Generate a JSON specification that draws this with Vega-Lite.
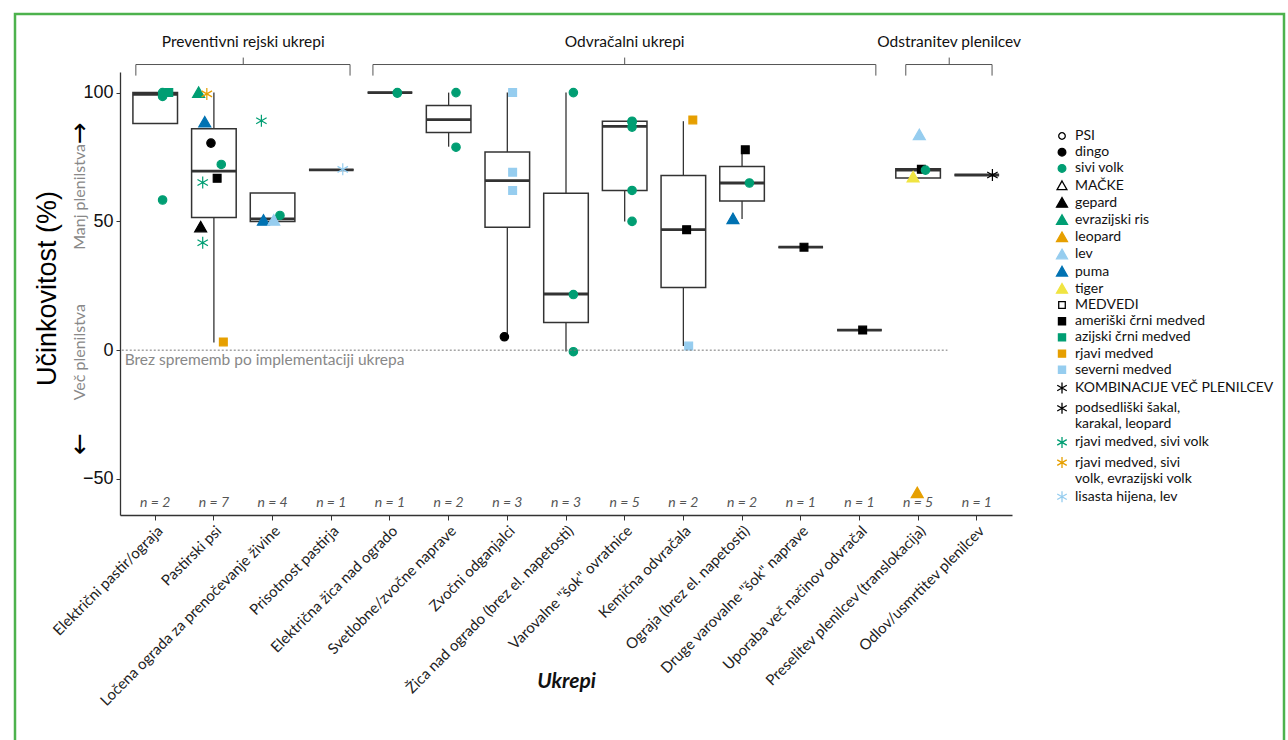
{
  "$schema": "https://vega.github.io/schema/vega-lite/v6.json",
  "width": 1269,
  "height": 740,
  "autosize": {"type": "none"},
  "padding": {"left": 15, "top": 14, "right": 4, "bottom": 0},
  "background": "white",
  "config": {
    "view": {"stroke": "#4db24d", "strokeWidth": 2.5},
    "font": "Lato",
    "axis": {"grid": false}
  },
  "datasets": {
    "boxes": [
      {"category": "Električni pastir/ograja", "n": 2, "lw": 88, "q1": 88, "med": 99.3, "q3": 100, "uw": 100},
      {"category": "Pastirski psi", "n": 7, "lw": 3, "q1": 51.5, "med": 69.5, "q3": 86, "uw": 100},
      {"category": "Ločena ograda za prenočevanje živine", "n": 4, "lw": 50, "q1": 50, "med": 51, "q3": 61, "uw": 61},
      {"category": "Prisotnost pastirja", "n": 1, "lw": 70, "q1": 70, "med": 70, "q3": 70, "uw": 70},
      {"category": "Električna žica nad ogrado", "n": 1, "lw": 100, "q1": 100, "med": 100, "q3": 100, "uw": 100},
      {"category": "Svetlobne/zvočne naprave", "n": 2, "lw": 79, "q1": 84.5, "med": 89.5, "q3": 95, "uw": 100},
      {"category": "Zvočni odganjalci", "n": 3, "lw": 5.2, "q1": 47.7, "med": 65.8, "q3": 76.9, "uw": 100},
      {"category": "Žica nad ogrado (brez el. napetosti)", "n": 3, "lw": -0.5, "q1": 10.7, "med": 21.8, "q3": 60.9, "uw": 100},
      {"category": "Varovalne \"šok\" ovratnice", "n": 5, "lw": 50, "q1": 62, "med": 86.9, "q3": 88.9, "uw": 88.9},
      {"category": "Kemična odvračala", "n": 2, "lw": 1.6, "q1": 24.3, "med": 46.8, "q3": 67.8, "uw": 88.9},
      {"category": "Ograja (brez el. napetosti)", "n": 2, "lw": 50.9, "q1": 57.9, "med": 64.9, "q3": 71.3, "uw": 77.8},
      {"category": "Druge varovalne \"šok\" naprave", "n": 1, "lw": 40, "q1": 40, "med": 40, "q3": 40, "uw": 40},
      {"category": "Uporaba več načinov odvračal", "n": 1, "lw": 7.8, "q1": 7.8, "med": 7.8, "q3": 7.8, "uw": 7.8},
      {"category": "Preselitev plenilcev (translokacija)", "n": 5, "lw": 66.8, "q1": 66.8, "med": 69.9, "q3": 70.4, "uw": 70.4},
      {"category": "Odlov/usmrtitev plenilcev", "n": 1, "lw": 68, "q1": 68, "med": 68, "q3": 68, "uw": 68}
    ],
    "points": [
      {"category": "Električni pastir/ograja", "species": "sivi volk", "value": 98.5},
      {"category": "Električni pastir/ograja", "species": "sivi volk", "value": 100},
      {"category": "Električni pastir/ograja", "species": "azijski črni medved", "value": 100},
      {"category": "Električni pastir/ograja", "species": "sivi volk", "value": 58.3},
      {"category": "Pastirski psi", "species": "evrazijski ris", "value": 100},
      {"category": "Pastirski psi", "species": "rjavi medved, sivi volk, evrazijski volk", "value": 99.5},
      {"category": "Pastirski psi", "species": "puma", "value": 88.5},
      {"category": "Pastirski psi", "species": "dingo", "value": 80.4},
      {"category": "Pastirski psi", "species": "sivi volk", "value": 72.1},
      {"category": "Pastirski psi", "species": "ameriški črni medved", "value": 66.7},
      {"category": "Pastirski psi", "species": "rjavi medved, sivi volk", "value": 65.1},
      {"category": "Pastirski psi", "species": "gepard", "value": 47.8},
      {"category": "Pastirski psi", "species": "rjavi medved, sivi volk", "value": 41.7},
      {"category": "Pastirski psi", "species": "rjavi medved", "value": 3.2},
      {"category": "Ločena ograda za prenočevanje živine", "species": "rjavi medved, sivi volk", "value": 89.1},
      {"category": "Ločena ograda za prenočevanje živine", "species": "sivi volk", "value": 52.3},
      {"category": "Ločena ograda za prenočevanje živine", "species": "puma", "value": 50.4},
      {"category": "Ločena ograda za prenočevanje živine", "species": "lev", "value": 50.4},
      {"category": "Prisotnost pastirja", "species": "lisasta hijena, lev", "value": 70.2},
      {"category": "Električna žica nad ogrado", "species": "sivi volk", "value": 100},
      {"category": "Električna žica nad ogrado", "species": "sivi volk", "value": 99.8},
      {"category": "Svetlobne/zvočne naprave", "species": "sivi volk", "value": 100},
      {"category": "Svetlobne/zvočne naprave", "species": "sivi volk", "value": 78.8},
      {"category": "Zvočni odganjalci", "species": "severni medved", "value": 100},
      {"category": "Zvočni odganjalci", "species": "severni medved", "value": 69.1},
      {"category": "Zvočni odganjalci", "species": "severni medved", "value": 62},
      {"category": "Zvočni odganjalci", "species": "dingo", "value": 5.2},
      {"category": "Žica nad ogrado (brez el. napetosti)", "species": "sivi volk", "value": 100},
      {"category": "Žica nad ogrado (brez el. napetosti)", "species": "sivi volk", "value": 21.6},
      {"category": "Žica nad ogrado (brez el. napetosti)", "species": "sivi volk", "value": -0.6},
      {"category": "Varovalne \"šok\" ovratnice", "species": "sivi volk", "value": 88.9},
      {"category": "Varovalne \"šok\" ovratnice", "species": "sivi volk", "value": 88.5},
      {"category": "Varovalne \"šok\" ovratnice", "species": "sivi volk", "value": 86.6},
      {"category": "Varovalne \"šok\" ovratnice", "species": "sivi volk", "value": 62},
      {"category": "Varovalne \"šok\" ovratnice", "species": "sivi volk", "value": 50},
      {"category": "Kemična odvračala", "species": "rjavi medved", "value": 89.4},
      {"category": "Kemična odvračala", "species": "ameriški črni medved", "value": 46.8},
      {"category": "Kemična odvračala", "species": "severni medved", "value": 1.6},
      {"category": "Ograja (brez el. napetosti)", "species": "ameriški črni medved", "value": 77.8},
      {"category": "Ograja (brez el. napetosti)", "species": "sivi volk", "value": 64.9},
      {"category": "Ograja (brez el. napetosti)", "species": "puma", "value": 51},
      {"category": "Druge varovalne \"šok\" naprave", "species": "ameriški črni medved", "value": 40},
      {"category": "Uporaba več načinov odvračal", "species": "ameriški črni medved", "value": 7.8},
      {"category": "Preselitev plenilcev (translokacija)", "species": "lev", "value": 83.6},
      {"category": "Preselitev plenilcev (translokacija)", "species": "ameriški črni medved", "value": 70.2},
      {"category": "Preselitev plenilcev (translokacija)", "species": "sivi volk", "value": 69.9},
      {"category": "Preselitev plenilcev (translokacija)", "species": "tiger", "value": 67.2},
      {"category": "Preselitev plenilcev (translokacija)", "species": "leopard", "value": -55.4},
      {"category": "Odlov/usmrtitev plenilcev", "species": "podsedliški šakal, karakal, leopard", "value": 68}
    ],
    "groups": [
      {"group": "Preventivni rejski ukrepi", "from": -0.33, "to": 3.32, "mid": 1.5},
      {"group": "Odvračalni ukrepi", "from": 3.71, "to": 12.28, "mid": 8},
      {"group": "Odstranitev plenilcev", "from": 12.79, "to": 14.26, "mid": 13.53}
    ]
  },
  "layer": [
    {
      "layer": [
        {
          "data": {"name": "boxes"},
          "mark": {"type": "rule", "stroke": "#333333", "strokeWidth": 1.3},
          "encoding": {
            "x": {
              "field": "category", "type": "nominal",
              "scale": {
                "domain": ["Električni pastir/ograja", "Pastirski psi", "Ločena ograda za prenočevanje živine", "Prisotnost pastirja", "Električna žica nad ogrado", "Svetlobne/zvočne naprave", "Zvočni odganjalci", "Žica nad ogrado (brez el. napetosti)", "Varovalne \"šok\" ovratnice", "Kemična odvračala", "Ograja (brez el. napetosti)", "Druge varovalne \"šok\" naprave", "Uporaba več načinov odvračal", "Preselitev plenilcev (translokacija)", "Odlov/usmrtitev plenilcev"],
                "range": [105, 997], "paddingInner": 0, "paddingOuter": 0.1
              },
              "axis": {
                "title": "Ukrepi", "orient": "bottom", "offset": -239,
                "labelAngle": -45, "labelAlign": "right", "labelBaseline": "top",
                "labelFont": "Lato", "labelFontSize": 15, "labelColor": "#222222", "labelPadding": 3, "labelLimit": 400,
                "tickSize": 5, "tickColor": "#333333", "domainColor": "#333333", "domainWidth": 1.3,
                "titleFont": "Lato", "titleFontSize": 21, "titleFontWeight": "bold", "titleFontStyle": "italic", "titleColor": "#111111",
                "titleY": 166, "titleBaseline": "middle"
              }
            },
            "y": {
              "field": "lw", "type": "quantitative",
              "scale": {"domain": [-64, 108], "range": [501, 58], "nice": false, "zero": false},
              "axis": {
                "title": "Učinkovitost (%)", "orient": "left", "offset": -105, "values": [-50, 0, 50, 100],
                "labelFont": "Liberation Sans", "labelFontSize": 18, "labelColor": "#111111", "labelPadding": 3,
                "tickSize": 4, "tickColor": "#333333", "domainColor": "#333333", "domainWidth": 1.3,
                "titleFont": "Liberation Sans", "titleFontSize": 27, "titleFontWeight": "normal", "titleColor": "#000000",
                "titleX": -73, "titleY": 274, "titleBaseline": "middle", "titleAlign": "center"
              }
            },
            "y2": {"field": "uw"}
          }
        },
        {
          "data": {"name": "boxes"},
          "mark": {"type": "bar", "fill": "white", "stroke": "#333333", "strokeWidth": 1.5, "width": {"band": 0.76}},
          "encoding": {
            "x": {"field": "category", "type": "nominal"},
            "y": {"field": "q1", "type": "quantitative"},
            "y2": {"field": "q3"}
          }
        },
        {
          "data": {"name": "boxes"},
          "mark": {"type": "bar", "fill": "#333333", "stroke": "#333333", "strokeWidth": 2.8, "width": {"band": 0.76}},
          "encoding": {
            "x": {"field": "category", "type": "nominal"},
            "y": {"field": "med", "type": "quantitative"},
            "y2": {"field": "med"}
          }
        },
        {
          "data": {"name": "points"},
          "mark": {"type": "point", "filled": true, "size": 144, "strokeWidth": 1.2, "opacity": 1},
          "encoding": {
            "x": {"field": "category", "type": "nominal"},
            "xOffset": {
              "field": "species", "type": "nominal",
              "scale": {
                "domain": ["evrazijski ris", "gepard", "rjavi medved, sivi volk", "puma", "rjavi medved, sivi volk, evrazijski volk", "tiger", "dingo", "leopard", "lev", "ameriški črni medved", "severni medved", "sivi volk", "rjavi medved", "lisasta hijena, lev", "azijski črni medved", "podsedliški šakal, karakal, leopard"],
                "range": [13, 46]
              }
            },
            "y": {"field": "value", "type": "quantitative"},
            "shape": {
              "field": "species", "type": "nominal",
              "scale": {
                "domain": ["PSI", "dingo", "sivi volk", "MAČKE", "gepard", "evrazijski ris", "leopard", "lev", "puma", "tiger", "MEDVEDI", "ameriški črni medved", "azijski črni medved", "rjavi medved", "severni medved", "KOMBINACIJE VEČ PLENILCEV", "podsedliški šakal, karakal, leopard", "rjavi medved, sivi volk", "rjavi medved, sivi volk, evrazijski volk", "lisasta hijena, lev"],
                "range": [
                  "M0.6,0A0.6,0.6,0,1,1,-0.6,0A0.6,0.6,0,1,1,0.6,0Z",
                  "M0.7,0A0.7,0.7,0,1,1,-0.7,0A0.7,0.7,0,1,1,0.7,0Z",
                  "M0.7,0A0.7,0.7,0,1,1,-0.7,0A0.7,0.7,0,1,1,0.7,0Z",
                  "M0,-0.85L0.9,0.75L-0.9,0.75Z",
                  "M0,-0.95L1,0.8L-1,0.8Z",
                  "M0,-0.95L1,0.8L-1,0.8Z",
                  "M0,-0.95L1,0.8L-1,0.8Z",
                  "M0,-0.95L1,0.8L-1,0.8Z",
                  "M0,-0.95L1,0.8L-1,0.8Z",
                  "M0,-0.95L1,0.8L-1,0.8Z",
                  "M-0.6,-0.6L0.6,-0.6L0.6,0.6L-0.6,0.6Z",
                  "M-0.65,-0.65L0.65,-0.65L0.65,0.65L-0.65,0.65Z",
                  "M-0.65,-0.65L0.65,-0.65L0.65,0.65L-0.65,0.65Z",
                  "M-0.65,-0.65L0.65,-0.65L0.65,0.65L-0.65,0.65Z",
                  "M-0.65,-0.65L0.65,-0.65L0.65,0.65L-0.65,0.65Z",
                  "M0,-1L0,1M-0.87,-0.5L0.87,0.5M-0.87,0.5L0.87,-0.5",
                  "M0,-1L0,1M-0.87,-0.5L0.87,0.5M-0.87,0.5L0.87,-0.5",
                  "M0,-1L0,1M-0.87,-0.5L0.87,0.5M-0.87,0.5L0.87,-0.5",
                  "M0,-1L0,1M-0.87,-0.5L0.87,0.5M-0.87,0.5L0.87,-0.5",
                  "M0,-1L0,1M-0.87,-0.5L0.87,0.5M-0.87,0.5L0.87,-0.5"
                ]
              },
              "legend": {
                "title": null, "orient": "none", "legendX": 1040, "legendY": 115, "padding": 0,
                "labelFont": "Lato", "labelFontSize": 14, "labelColor": "#111111", "labelOffset": 6, "labelLimit": 260,
                "symbolSize": 120, "symbolStrokeWidth": 1.3, "rowPadding": 2.2,
                "labelExpr": "datum.label == 'podsedliški šakal, karakal, leopard' ? ['podsedliški šakal,', 'karakal, leopard'] : datum.label == 'rjavi medved, sivi volk, evrazijski volk' ? ['rjavi medved, sivi', 'volk, evrazijski volk'] : datum.label"
              }
            },
            "fill": {
              "field": "species", "type": "nominal",
              "scale": {
                "domain": ["PSI", "dingo", "sivi volk", "MAČKE", "gepard", "evrazijski ris", "leopard", "lev", "puma", "tiger", "MEDVEDI", "ameriški črni medved", "azijski črni medved", "rjavi medved", "severni medved", "KOMBINACIJE VEČ PLENILCEV", "podsedliški šakal, karakal, leopard", "rjavi medved, sivi volk", "rjavi medved, sivi volk, evrazijski volk", "lisasta hijena, lev"],
                "range": ["#ffffff", "#000000", "#009E73", "#ffffff", "#000000", "#009E73", "#E69F00", "#96CDEF", "#0072B2", "#F0E442", "#ffffff", "#000000", "#009E73", "#E69F00", "#96CDEF", "#000000", "#000000", "#009E73", "#E69F00", "#96CDEF"]
              },
              "legend": {
                "title": null, "orient": "none", "legendX": 1040, "legendY": 115, "padding": 0,
                "labelFont": "Lato", "labelFontSize": 14, "labelColor": "#111111", "labelOffset": 6, "labelLimit": 260,
                "symbolSize": 120, "symbolStrokeWidth": 1.3, "rowPadding": 2.2,
                "labelExpr": "datum.label == 'podsedliški šakal, karakal, leopard' ? ['podsedliški šakal,', 'karakal, leopard'] : datum.label == 'rjavi medved, sivi volk, evrazijski volk' ? ['rjavi medved, sivi', 'volk, evrazijski volk'] : datum.label"
              }
            },
            "stroke": {
              "field": "species", "type": "nominal",
              "scale": {
                "domain": ["PSI", "dingo", "sivi volk", "MAČKE", "gepard", "evrazijski ris", "leopard", "lev", "puma", "tiger", "MEDVEDI", "ameriški črni medved", "azijski črni medved", "rjavi medved", "severni medved", "KOMBINACIJE VEČ PLENILCEV", "podsedliški šakal, karakal, leopard", "rjavi medved, sivi volk", "rjavi medved, sivi volk, evrazijski volk", "lisasta hijena, lev"],
                "range": ["#000000", "#000000", "#009E73", "#000000", "#000000", "#009E73", "#E69F00", "#96CDEF", "#0072B2", "#F0E442", "#000000", "#000000", "#009E73", "#E69F00", "#96CDEF", "#000000", "#000000", "#009E73", "#E69F00", "#96CDEF"]
              },
              "legend": {
                "title": null, "orient": "none", "legendX": 1040, "legendY": 115, "padding": 0,
                "labelFont": "Lato", "labelFontSize": 14, "labelColor": "#111111", "labelOffset": 6, "labelLimit": 260,
                "symbolSize": 120, "symbolStrokeWidth": 1.3, "rowPadding": 2.2,
                "labelExpr": "datum.label == 'podsedliški šakal, karakal, leopard' ? ['podsedliški šakal,', 'karakal, leopard'] : datum.label == 'rjavi medved, sivi volk, evrazijski volk' ? ['rjavi medved, sivi', 'volk, evrazijski volk'] : datum.label"
              }
            }
          }
        },
        {
          "data": {"name": "boxes"},
          "mark": {"type": "text", "font": "Lato", "fontStyle": "italic", "fontSize": 14, "color": "#555555", "text": {"expr": "'n = ' + datum.n"}},
          "encoding": {
            "x": {"field": "category", "type": "nominal"},
            "y": {"datum": -59.3, "type": "quantitative"}
          }
        }
      ],
      "resolve": {"scale": {"xOffset": "independent"}}
    },
    {
      "layer": [
        {
          "data": {"values": [{}]},
          "mark": {"type": "rule", "strokeDash": [2, 2], "stroke": "#777777", "strokeWidth": 1},
          "encoding": {
            "x": {"datum": -0.57, "type": "quantitative", "scale": {"domain": [-0.6, 14.6], "range": [105, 997], "nice": false, "zero": false}, "axis": null},
            "x2": {"datum": 13.5},
            "y": {"datum": 0, "type": "quantitative"}
          }
        },
        {
          "data": {"values": [{}]},
          "mark": {"type": "text", "font": "Lato", "fontSize": 15.5, "color": "#888888", "align": "left", "baseline": "top", "dy": 3, "text": "Brez sprememb po implementaciji ukrepa"},
          "encoding": {
            "x": {"datum": -0.52, "type": "quantitative", "axis": null},
            "y": {"datum": 0, "type": "quantitative"}
          }
        },
        {
          "data": {"values": [{}]},
          "mark": {"type": "text", "font": "Lato", "fontSize": 16, "color": "#888888", "align": "center", "baseline": "middle", "angle": 270, "text": "Manj plenilstva"},
          "encoding": {
            "x": {"datum": -1.285, "type": "quantitative", "axis": null},
            "y": {"datum": 59.5, "type": "quantitative"}
          }
        },
        {
          "data": {"values": [{}]},
          "mark": {"type": "text", "font": "DejaVu Sans", "fontSize": 26, "color": "#000000", "align": "center", "baseline": "middle", "angle": 270, "text": "→"},
          "encoding": {
            "x": {"datum": -1.285, "type": "quantitative", "axis": null},
            "y": {"datum": 84.3, "type": "quantitative"}
          }
        },
        {
          "data": {"values": [{}]},
          "mark": {"type": "text", "font": "Lato", "fontSize": 16, "color": "#888888", "align": "center", "baseline": "middle", "angle": 270, "text": "Več plenilstva"},
          "encoding": {
            "x": {"datum": -1.285, "type": "quantitative", "axis": null},
            "y": {"datum": -0.8, "type": "quantitative"}
          }
        },
        {
          "data": {"values": [{}]},
          "mark": {"type": "text", "font": "DejaVu Sans", "fontSize": 26, "color": "#000000", "align": "center", "baseline": "middle", "angle": 270, "text": "←"},
          "encoding": {
            "x": {"datum": -1.285, "type": "quantitative", "axis": null},
            "y": {"datum": -36.4, "type": "quantitative"}
          }
        },
        {
          "data": {"name": "groups"},
          "mark": {"type": "rule", "stroke": "#555555", "strokeWidth": 1},
          "encoding": {
            "x": {"field": "from", "type": "quantitative", "axis": null},
            "x2": {"field": "to"},
            "y": {"datum": 110.9, "type": "quantitative"}
          }
        },
        {
          "data": {"name": "groups"},
          "mark": {"type": "rule", "stroke": "#555555", "strokeWidth": 1},
          "encoding": {
            "x": {"field": "from", "type": "quantitative", "axis": null},
            "y": {"datum": 110.9, "type": "quantitative"},
            "y2": {"datum": 106.6}
          }
        },
        {
          "data": {"name": "groups"},
          "mark": {"type": "rule", "stroke": "#555555", "strokeWidth": 1},
          "encoding": {
            "x": {"field": "to", "type": "quantitative", "axis": null},
            "y": {"datum": 110.9, "type": "quantitative"},
            "y2": {"datum": 106.6}
          }
        },
        {
          "data": {"name": "groups"},
          "mark": {"type": "rule", "stroke": "#555555", "strokeWidth": 1},
          "encoding": {
            "x": {"field": "mid", "type": "quantitative", "axis": null},
            "y": {"datum": 110.9, "type": "quantitative"},
            "y2": {"datum": 113.6}
          }
        },
        {
          "data": {"name": "groups"},
          "mark": {"type": "text", "font": "Lato", "fontSize": 15.5, "color": "#111111", "align": "center", "baseline": "middle"},
          "encoding": {
            "x": {"field": "mid", "type": "quantitative", "axis": null},
            "y": {"datum": 119.8, "type": "quantitative"},
            "text": {"field": "group", "type": "nominal"}
          }
        }
      ]
    }
  ],
  "resolve": {"scale": {"x": "independent"}}
}
